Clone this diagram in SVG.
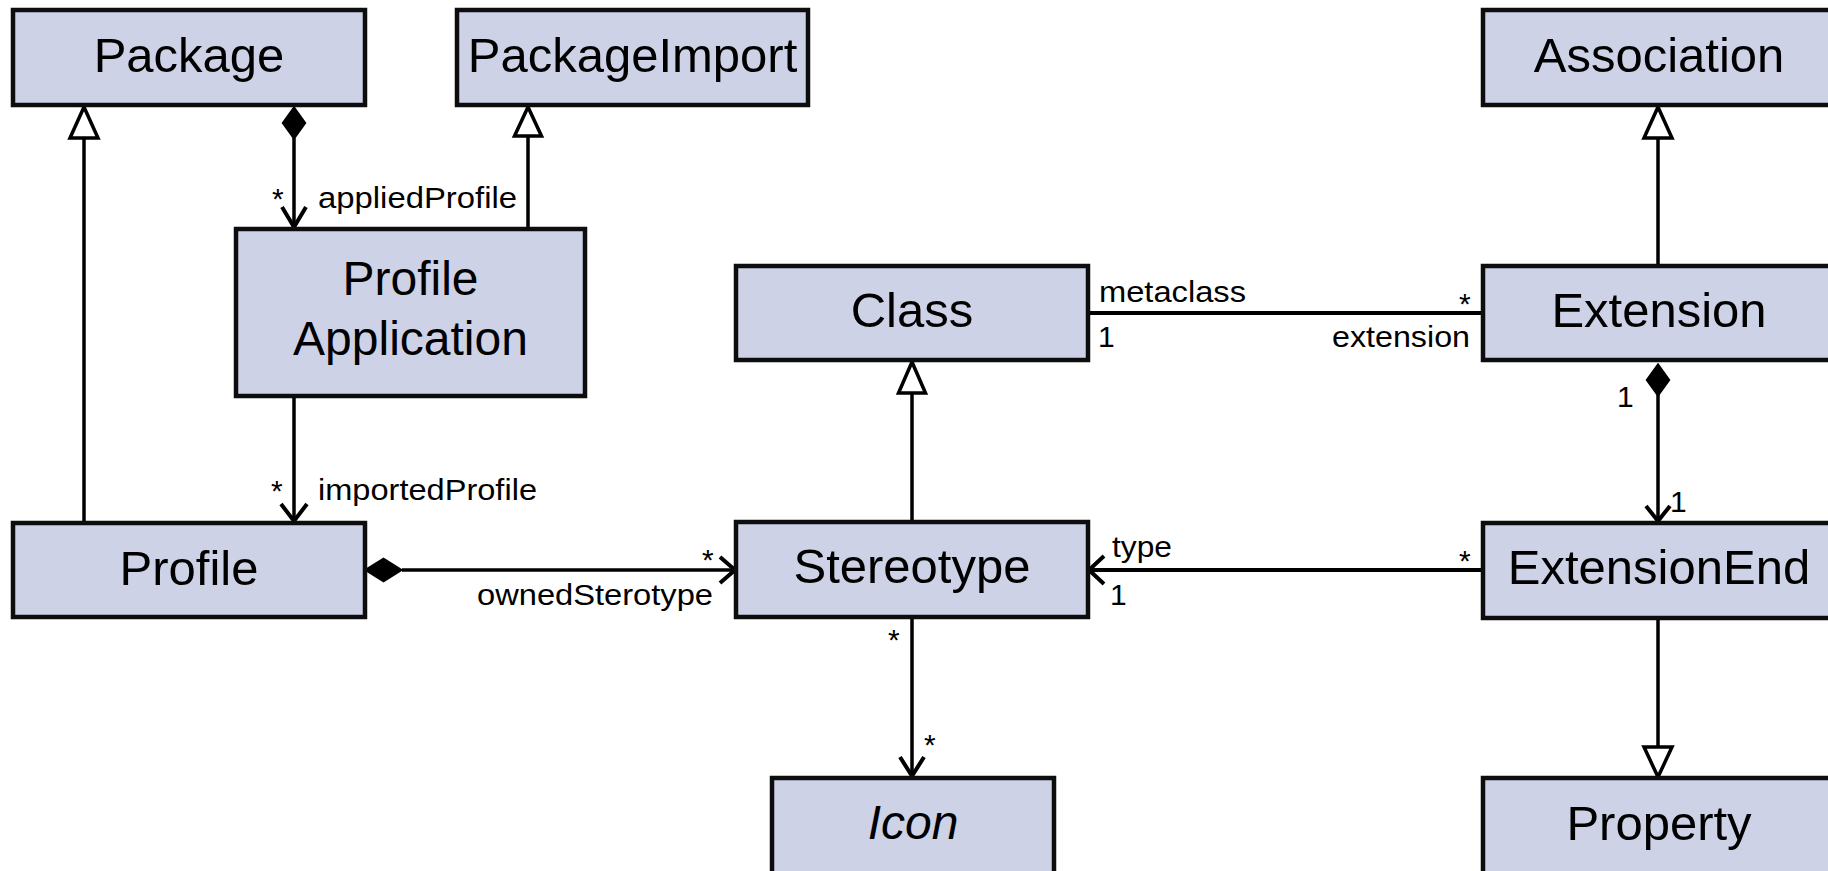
<svg xmlns="http://www.w3.org/2000/svg" width="1828" height="871" viewBox="0 0 1828 871">
<style>
.box{fill:#CED2E7;stroke:#0d0d0d;stroke-width:4.5}
.nl{font-family:"Liberation Sans",Arial,sans-serif;font-size:49px;fill:#000;text-anchor:middle}
.lb{font-family:"Liberation Sans",Arial,sans-serif;font-size:30px;fill:#000}
.ln{fill:none;stroke:#000;stroke-width:3.5}
.gen{fill:#fff;stroke:#000;stroke-width:3.5;stroke-linejoin:miter}
.dia{fill:#000;stroke:#000;stroke-width:1.5}
.arr{fill:none;stroke:#000;stroke-width:4}
</style>
<rect width="1828" height="871" fill="#fff"/>
<g id="connectors">
  <!-- Profile -> Package generalization -->
  <line class="ln" x1="84" y1="523" x2="84" y2="138"/>
  <polygon class="gen" points="84,107 70,138 98,138"/>
  <!-- Package composition -> ProfileApplication -->
  <line class="ln" x1="294" y1="138" x2="294" y2="227"/>
  <polygon class="dia" points="294,107 305.5,123 294,139 282.5,123"/>
  <polyline class="arr" points="282,207 294,227 306,207"/>
  <text class="lb" x="272" y="209">*</text>
  <text class="lb" x="318" y="208" textLength="199" lengthAdjust="spacingAndGlyphs">appliedProfile</text>
  <!-- ProfileApplication -> PackageImport generalization -->
  <line class="ln" x1="528" y1="229" x2="528" y2="136"/>
  <polygon class="gen" points="528,107 514.5,136 541.5,136"/>
  <!-- ProfileApplication -> Profile -->
  <line class="ln" x1="294" y1="396" x2="294" y2="521"/>
  <polyline class="arr" points="281,504 294,521 307,504"/>
  <text class="lb" x="271" y="501">*</text>
  <text class="lb" x="318" y="500" textLength="219" lengthAdjust="spacingAndGlyphs">importedProfile</text>
  <!-- Profile composition -> Stereotype -->
  <line class="ln" x1="402" y1="570" x2="734" y2="570"/>
  <polygon class="dia" points="365,570 383.5,558.5 402,570 383.5,581.5"/>
  <polyline class="arr" points="720,557 735,570 720,583"/>
  <text class="lb" x="702" y="570">*</text>
  <text class="lb" x="477" y="605" textLength="236" lengthAdjust="spacingAndGlyphs">ownedSterotype</text>
  <!-- Stereotype -> Class generalization -->
  <line class="ln" x1="912" y1="522" x2="912" y2="393"/>
  <polygon class="gen" points="912,362 898.5,393 925.5,393"/>
  <!-- Class - Extension -->
  <line class="ln" x1="1088" y1="313" x2="1483" y2="313" style="stroke-width:4"/>
  <text class="lb" x="1099" y="302" textLength="147" lengthAdjust="spacingAndGlyphs">metaclass</text>
  <text class="lb" x="1098" y="347">1</text>
  <text class="lb" x="1332" y="347" textLength="138" lengthAdjust="spacingAndGlyphs">extension</text>
  <text class="lb" x="1459" y="314">*</text>
  <!-- Extension -> Association generalization -->
  <line class="ln" x1="1658" y1="266" x2="1658" y2="138"/>
  <polygon class="gen" points="1658,107 1644,138 1672,138"/>
  <!-- Extension composition -> ExtensionEnd -->
  <line class="ln" x1="1658" y1="394" x2="1658" y2="521"/>
  <polygon class="dia" points="1658,364 1669.5,380 1658,396 1646.5,380"/>
  <polyline class="arr" points="1646,506 1658,521 1670,506"/>
  <text class="lb" x="1617" y="407">1</text>
  <text class="lb" x="1670" y="512">1</text>
  <!-- ExtensionEnd -> Stereotype -->
  <line class="ln" x1="1483" y1="570" x2="1090" y2="570" style="stroke-width:4"/>
  <polyline class="arr" points="1104,556 1089,570 1104,584"/>
  <text class="lb" x="1112" y="557" textLength="60" lengthAdjust="spacingAndGlyphs">type</text>
  <text class="lb" x="1110" y="605">1</text>
  <text class="lb" x="1459" y="571">*</text>
  <!-- ExtensionEnd -> Property generalization -->
  <line class="ln" x1="1658" y1="619" x2="1658" y2="747"/>
  <polygon class="gen" points="1658,777 1644,747 1672,747"/>
  <!-- Stereotype -> Icon -->
  <line class="ln" x1="912" y1="618" x2="912" y2="776"/>
  <polyline class="arr" points="900,757 912,776 924,757"/>
  <text class="lb" x="888" y="650">*</text>
  <text class="lb" x="924" y="755">*</text>
</g>
<g id="Package"><rect class="box" x="13" y="10" width="352" height="95"/><text class="nl" x="189" y="72">Package</text></g>
<g id="PackageImport"><rect class="box" x="457" y="10" width="351" height="95"/><text class="nl" x="632.5" y="72">PackageImport</text></g>
<g id="Association"><rect class="box" x="1483" y="10" width="352" height="95"/><text class="nl" x="1659" y="72">Association</text></g>
<g id="ProfileApplication"><rect class="box" x="236" y="229" width="349" height="167"/><text class="nl" x="410.5" y="295" style="font-size:48px">Profile</text><text class="nl" x="410.5" y="355" style="font-size:48px">Application</text></g>
<g id="Class"><rect class="box" x="736" y="266" width="352" height="94"/><text class="nl" x="912" y="327">Class</text></g>
<g id="Extension"><rect class="box" x="1483" y="266" width="352" height="94"/><text class="nl" x="1659" y="327">Extension</text></g>
<g id="Profile"><rect class="box" x="13" y="523" width="352" height="94"/><text class="nl" x="189" y="585">Profile</text></g>
<g id="Stereotype"><rect class="box" x="736" y="522" width="352" height="95"/><text class="nl" x="912" y="583">Stereotype</text></g>
<g id="ExtensionEnd"><rect class="box" x="1483" y="523" width="352" height="95"/><text class="nl" x="1659" y="584">ExtensionEnd</text></g>
<g id="Icon"><rect class="box" x="772" y="778" width="282" height="110"/><text class="nl" x="913" y="839" style="font-style:italic;font-size:48px">Icon</text></g>
<g id="Property"><rect class="box" x="1483" y="778" width="352" height="110"/><text class="nl" x="1659" y="840">Property</text></g>
</svg>
